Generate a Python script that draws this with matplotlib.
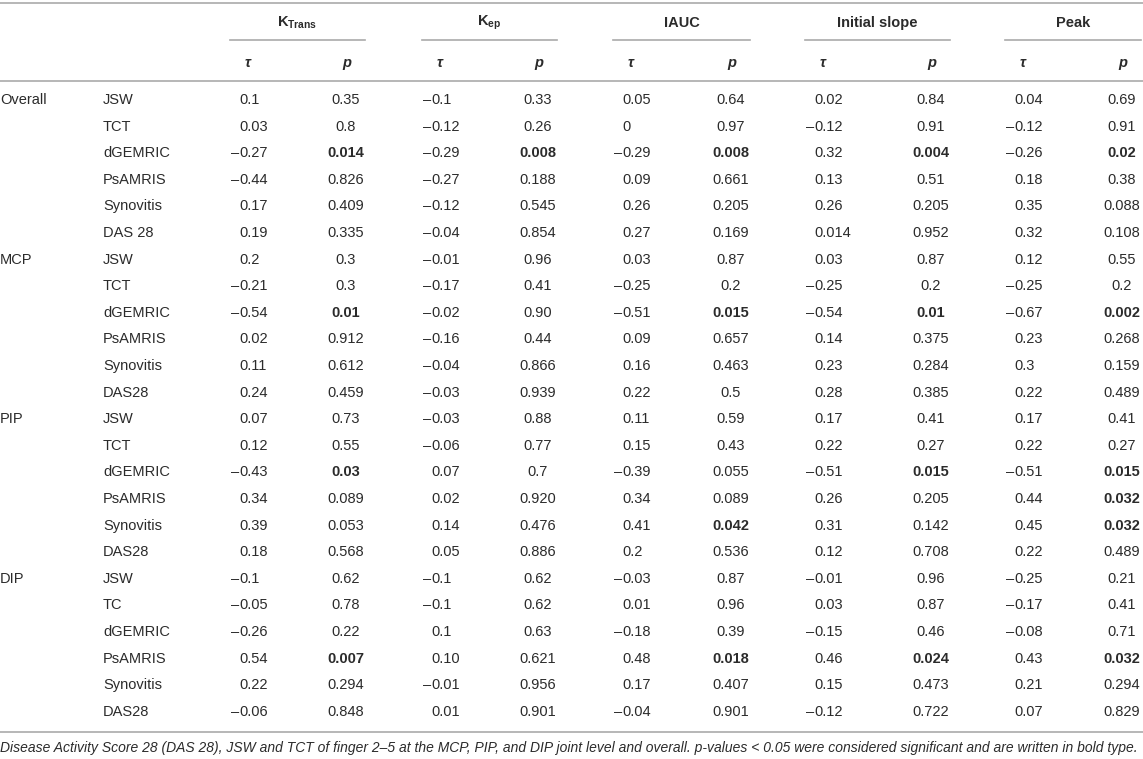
import matplotlib
matplotlib.use("Agg")
import matplotlib.pyplot as plt

plt.rcParams['font.family'] = ['Liberation Sans', 'DejaVu Sans']
plt.rcParams['mathtext.fontset'] = 'custom'
plt.rcParams['mathtext.rm'] = 'Liberation Sans'
plt.rcParams['mathtext.bf'] = 'Liberation Sans:bold'

# Table content
groups = ['Overall', 'MCP', 'PIP', 'DIP']
row_labels = ['JSW', 'TCT', 'dGEMRIC', 'PsAMRIS', 'Synovitis', 'DAS 28',
              'JSW', 'TCT', 'dGEMRIC', 'PsAMRIS', 'Synovitis', 'DAS28',
              'JSW', 'TCT', 'dGEMRIC', 'PsAMRIS', 'Synovitis', 'DAS28',
              'JSW', 'TC', 'dGEMRIC', 'PsAMRIS', 'Synovitis', 'DAS28']
metrics = [r'$\mathbf{K}_{\mathbf{Trans}}$', r'$\mathbf{K}_{\mathbf{ep}}$',
           'IAUC', 'Initial slope', 'Peak']

ktrans_tau = ['0.1', '0.03', '–0.27', '–0.44', '0.17', '0.19',
              '0.2', '–0.21', '–0.54', '0.02', '0.11', '0.24',
              '0.07', '0.12', '–0.43', '0.34', '0.39', '0.18',
              '–0.1', '–0.05', '–0.26', '0.54', '0.22', '–0.06']
ktrans_p = ['0.35', '0.8', '0.014', '0.826', '0.409', '0.335',
            '0.3', '0.3', '0.01', '0.912', '0.612', '0.459',
            '0.73', '0.55', '0.03', '0.089', '0.053', '0.568',
            '0.62', '0.78', '0.22', '0.007', '0.294', '0.848']
kep_tau = ['–0.1', '–0.12', '–0.29', '–0.27', '–0.12', '–0.04',
           '–0.01', '–0.17', '–0.02', '–0.16', '–0.04', '–0.03',
           '–0.03', '–0.06', '0.07', '0.02', '0.14', '0.05',
           '–0.1', '–0.1', '0.1', '0.10', '–0.01', '0.01']
kep_p = ['0.33', '0.26', '0.008', '0.188', '0.545', '0.854',
         '0.96', '0.41', '0.90', '0.44', '0.866', '0.939',
         '0.88', '0.77', '0.7', '0.920', '0.476', '0.886',
         '0.62', '0.62', '0.63', '0.621', '0.956', '0.901']
iauc_tau = ['0.05', '0', '–0.29', '0.09', '0.26', '0.27',
            '0.03', '–0.25', '–0.51', '0.09', '0.16', '0.22',
            '0.11', '0.15', '–0.39', '0.34', '0.41', '0.2',
            '–0.03', '0.01', '–0.18', '0.48', '0.17', '–0.04']
iauc_p = ['0.64', '0.97', '0.008', '0.661', '0.205', '0.169',
          '0.87', '0.2', '0.015', '0.657', '0.463', '0.5',
          '0.59', '0.43', '0.055', '0.089', '0.042', '0.536',
          '0.87', '0.96', '0.39', '0.018', '0.407', '0.901']
slope_tau = ['0.02', '–0.12', '0.32', '0.13', '0.26', '0.014',
             '0.03', '–0.25', '–0.54', '0.14', '0.23', '0.28',
             '0.17', '0.22', '–0.51', '0.26', '0.31', '0.12',
             '–0.01', '0.03', '–0.15', '0.46', '0.15', '–0.12']
slope_p = ['0.84', '0.91', '0.004', '0.51', '0.205', '0.952',
           '0.87', '0.2', '0.01', '0.375', '0.284', '0.385',
           '0.41', '0.27', '0.015', '0.205', '0.142', '0.708',
           '0.96', '0.87', '0.46', '0.024', '0.473', '0.722']
peak_tau = ['0.04', '–0.12', '–0.26', '0.18', '0.35', '0.32',
            '0.12', '–0.25', '–0.67', '0.23', '0.3', '0.22',
            '0.17', '0.22', '–0.51', '0.44', '0.45', '0.22',
            '–0.25', '–0.17', '–0.08', '0.43', '0.21', '0.07']
peak_p = ['0.69', '0.91', '0.02', '0.38', '0.088', '0.108',
          '0.55', '0.2', '0.002', '0.268', '0.159', '0.489',
          '0.41', '0.27', '0.015', '0.032', '0.032', '0.489',
          '0.21', '0.41', '0.71', '0.032', '0.294', '0.829']

taus = [ktrans_tau, kep_tau, iauc_tau, slope_tau, peak_tau]
pvals = [ktrans_p, kep_p, iauc_p, slope_p, peak_p]

footnote = ("Disease Activity Score 28 (DAS 28), JSW and TCT of finger 2–5 at the MCP, PIP, "
            "and DIP joint level and overall. p-values < 0.05 were considered significant "
            "and are written in bold type.")

# layout (pixels)
W, H = 1143, 759
col_spans = [(230, 365), (422, 557), (613, 750), (805, 950), (1005, 1141)]
row_y0, row_dy = 100, 26.6
txt = '#2b2b2b'
rule = '#aaaaaa'
fs = 10.5

fig = plt.figure(figsize=(W / 100, H / 100), dpi=100)
ax = fig.add_axes([0, 0, 1, 1])
ax.set_xlim(0, W)
ax.set_ylim(H, 0)
ax.axis('off')

# rules
ax.plot([0, W], [2.5, 2.5], color=rule, lw=1.2)
ax.plot([0, W], [81, 81], color=rule, lw=1.2)
last_y = row_y0 + row_dy * (len(row_labels) - 1)
ax.plot([0, W], [last_y + 20, last_y + 20], color=rule, lw=1.2)

# header
for (x0, x1), m in zip(col_spans, metrics):
    ax.text((x0 + x1) / 2, 23, m, ha='center', va='center', fontsize=fs,
            fontweight='bold', color=txt)
    ax.plot([x0, x1], [39.5, 39.5], color=rule, lw=1.2)
    ax.text(x0 + 18, 63, 'τ', ha='center', va='center', fontsize=fs,
            fontweight='bold', fontstyle='italic', color=txt)
    ax.text(x1 - 18, 63, 'p', ha='center', va='center', fontsize=fs,
            fontweight='bold', fontstyle='italic', color=txt)

# body
for i, lab in enumerate(row_labels):
    y = row_y0 + i * row_dy
    if i % 6 == 0:
        ax.text(0, y, groups[i // 6], ha='left', va='center', fontsize=fs, color=txt)
    ax.text(103, y, lab, ha='left', va='center', fontsize=fs, color=txt)
    for (x0, x1), tcol, pcol in zip(col_spans, taus, pvals):
        t = tcol[i]
        if t.startswith('–'):
            ax.text(x0 + 9, y, '–', ha='right', va='center', fontsize=fs, color=txt)
            t = t[1:]
        ax.text(x0 + 9, y, t, ha='left', va='center', fontsize=fs, color=txt)
        p = pcol[i]
        bold = float(p) < 0.05
        ax.text(x1 - 19, y, p, ha='center', va='center', fontsize=fs,
                fontweight='bold' if bold else 'normal', color=txt)

# footnote, fitted to the table width
fn = ax.text(0, last_y + 36, footnote, ha='left', va='center', fontsize=9.5,
             fontstyle='italic', color=txt)
fig.canvas.draw()
w = fn.get_window_extent().width
fn.set_fontsize(9.5 * 1140 / w)

fig.savefig('out.png', dpi=100)
